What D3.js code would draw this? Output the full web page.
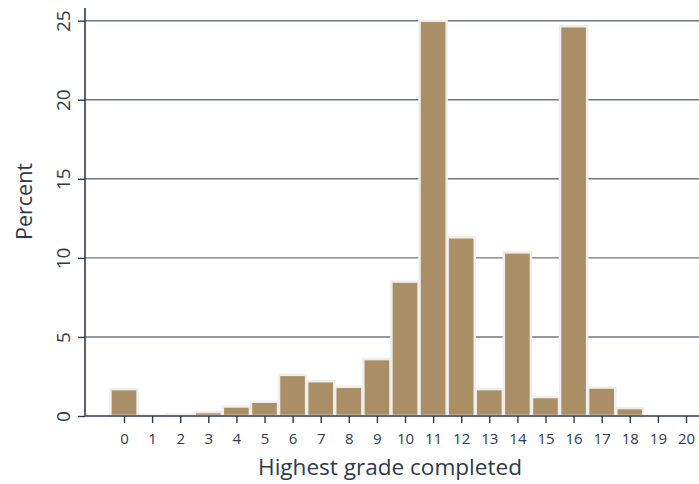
<!DOCTYPE html>
<html><head><meta charset="utf-8">
<script src="https://cdn.jsdelivr.net/npm/d3@7"></script>
<style>body{margin:0;background:#fff}svg{display:block;font-family:"Open Sans",sans-serif}</style>
</head><body><svg id="c" width="699" height="484"></svg>
<script>
const grades = [0,1,2,3,4,5,6,7,8,9,10,11,12,13,14,15,16,17,18,19,20];
const percents = [1.7,0.05,0.1,0.25,0.6,0.9,2.6,2.2,1.85,3.6,8.5,25.0,11.3,1.7,10.35,1.2,24.65,1.8,0.5,0,0];
const yTicks = [0,5,10,15,20,25];
const xTicks = grades;

const svg = d3.select("#c");
const pLeft = 85, pRight = 699, pTop = 20.7, pBottom = 416;
const x = d3.scaleLinear().domain([0,20]).range([124,686]);
const y = d3.scaleLinear().domain([0,25]).range([pBottom, pTop]);
const ink = "#2e3a4c";

// gridlines
svg.append("g").selectAll("line").data(yTicks.filter(d=>d>0)).join("line")
  .attr("x1", pLeft).attr("x2", pRight).attr("y1", d=>y(d)).attr("y2", d=>y(d))
  .attr("stroke", "#6c7786").attr("stroke-width", 1.4);

// bars
const bw = x(1)-x(0);
svg.append("g").selectAll("rect").data(grades.map((g,i)=>({g,v:percents[i]})).filter(d=>d.v>0)).join("rect")
  .attr("x", d=>x(d.g)-bw/2+0.5).attr("width", bw-1)
  .attr("y", d=>y(d.v)).attr("height", d=>pBottom-y(d.v))
  .attr("fill", "#aa8e65").attr("stroke", "#eeeeee").attr("stroke-width", 2.5);

// y axis
const ya = svg.append("g").attr("transform", `translate(${pLeft},0)`)
  .call(d3.axisLeft(y).tickValues(yTicks).tickSize(7).tickPadding(0).tickSizeOuter(0));
ya.select(".domain").remove();
ya.selectAll(".tick line").attr("stroke", ink).attr("stroke-width", 1.4);
ya.selectAll(".tick text").attr("transform", "translate(-15,0) rotate(-90)")
  .attr("text-anchor","middle").attr("x",0).attr("dy","0").attr("font-size",19).attr("fill",ink)
  .attr("font-family","Open Sans");
svg.append("line").attr("x1", pLeft).attr("x2", pLeft).attr("y1", 8).attr("y2", pBottom)
  .attr("stroke", ink).attr("stroke-width", 1.6);

// x axis
const xa = svg.append("g").attr("transform", `translate(0,${pBottom})`)
  .call(d3.axisBottom(x).tickValues(xTicks).tickSize(7).tickPadding(10).tickSizeOuter(0));
xa.select(".domain").remove();
xa.selectAll(".tick line").attr("stroke", ink).attr("stroke-width", 1.4);
xa.selectAll(".tick text").attr("font-size",15).attr("fill",ink).attr("font-family","Open Sans");
svg.append("line").attr("x1", pLeft).attr("x2", pRight).attr("y1", pBottom).attr("y2", pBottom)
  .attr("stroke", ink).attr("stroke-width", 1.6);

// axis titles
svg.append("text").attr("x", 390).attr("y", 475).attr("text-anchor","middle")
  .attr("font-size",22.5).attr("fill",ink).attr("textLength",264).attr("lengthAdjust","spacingAndGlyphs")
  .text("Highest grade completed");
svg.append("text").attr("transform","translate(32,201.5) rotate(-90)").attr("text-anchor","middle")
  .attr("font-size",22.5).attr("fill",ink).attr("textLength",77).attr("lengthAdjust","spacingAndGlyphs")
  .text("Percent");
</script></body></html>
